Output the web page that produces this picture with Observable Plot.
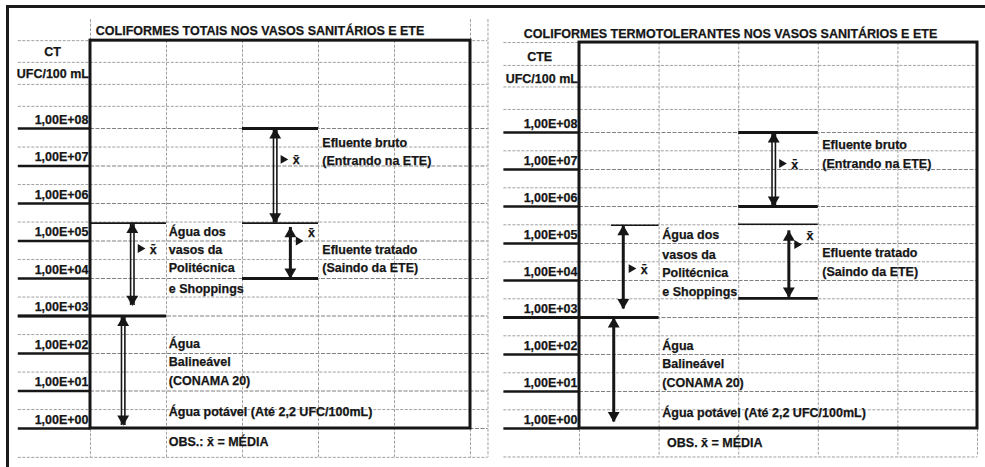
<!DOCTYPE html>
<html><head><meta charset="utf-8">
<script src="https://cdn.jsdelivr.net/npm/d3@7"></script>
<script src="https://cdn.jsdelivr.net/npm/@observablehq/plot@0.6"></script>
<style>
body{margin:0;background:#fff;}
#wrap{position:relative;width:985px;height:467px;overflow:hidden;background:#fff;}
#frame{position:absolute;left:6px;top:5px;width:985px;height:470px;border-top:3px solid #1a1a1a;border-left:3px solid #1a1a1a;}
.panel{position:absolute;top:0;}
.panel text{font-family:'Liberation Sans', Arial, sans-serif !important;font-size:12.5px !important;font-weight:bold !important;stroke:#161616;stroke-width:0.25px;}
.panel text.xbar{font-size:13px !important;}
</style></head><body><div id="wrap"><div id="frame"></div></div>
<script>
// ---- axis ticks (shared) ----
const tickValues = [1, 10, 100, 1e3, 1e4, 1e5, 1e6, 1e7, 1e8];
const tickLabels = ["1,00E+00","1,00E+01","1,00E+02","1,00E+03","1,00E+04","1,00E+05","1,00E+06","1,00E+07","1,00E+08"];
const halfRows = [3.2, 32, 320, 3.2e3, 3.2e4, 3.2e5, 3.2e6, 3.2e7];
const rangeNames = ["Efluente bruto", "Efluente tratado", "Água dos vasos", "Água balneável"];

// ---- panel 1: coliformes totais ----
const ctTitle = "COLIFORMES TOTAIS NOS VASOS SANITÁRIOS E ETE";
const ctUpperRows = [3.9e8, 1.5e9, 5.8e9];
const ctBoxTop = 2.2e10;
const ctCol = [2.43, 2.63, 0.55, 0.43];
const ctLow = [3e5, 1e4, 1.9e3, 1.2];
const ctHigh = [1e8, 2.3e5, 3e5, 1e3];
const ctMean = [1.5e7, 1e5, 6.3e4, null];
const ctDouble = [true, false, true, true];
const ctLimitValue = [1e8, 3e5, 3e5, 1e4, 1e3];
const ctLimitFrom = [2, 2, 0, 2, -0.95];
const ctLimitTo = [3, 3, 1, 3, 1];
const ctLimitBold = [true, false, false, true, true];
const ctNoteText = ["Efluente bruto","(Entrando na ETE)","Efluente tratado","(Saindo da ETE)","Água dos","vasos da","Politécnica","e Shoppings","Água","Balineável","(CONAMA 20)","Água potável (Até 2,2 UFC/100mL)","OBS.: x\u0304 = MÉDIA"];
const ctNoteCol = [3.05,3.05,3.05,3.05,1.03,1.03,1.03,1.03,1.03,1.03,1.03,1.03,1.03];
const ctNoteValue = [4e7,1.4e7,5.6e4,1.9e4,1.7e5,5.6e4,1.9e4,5.4e3,174,58,18,2.7,0.43];

// ---- panel 2: coliformes termotolerantes ----
const cteTitle = "COLIFORMES TERMOTOLERANTES NOS VASOS SANITÁRIOS E ETE";
const cteUpperRows = [4.2e8, 1.7e9, 6.5e9];
const cteBoxTop = 2.7e10;
const cteCol = [2.44, 2.63, 0.55, 0.43];
const cteLow = [1e6, 3.5e3, 1.7e3, 1.5];
const cteHigh = [1e8, 2.2e5, 3.1e5, 1e3];
const cteMean = [1.45e7, 9.4e4, 2.1e4, null];
const cteDouble = [true, false, false, false];
const cteLimitValue = [1e8, 1e6, 3.3e5, 3.3e3, 3.1e5, 1e3];
const cteLimitFrom = [2, 2, 2, 2, 0.4, -0.95];
const cteLimitTo = [3, 3, 3, 3, 1, 1];
const cteLimitBold = [true, true, false, true, false, true];
const cteNoteText = ["Efluente bruto","(Entrando na ETE)","Efluente tratado","(Saindo da ETE)","Água dos","vasos da","Politécnica","e Shoppings","Água","Balineável","(CONAMA 20)","Água potável (Até 2,2 UFC/100mL)","OBS. x\u0304 = MÉDIA"];
const cteNoteCol = [3.05,3.05,3.05,3.05,1.04,1.04,1.04,1.04,1.04,1.04,1.04,1.04,1.1];
const cteNoteValue = [4.5e7,1.45e7,5.4e4,1.7e4,1.7e5,5e4,1.55e4,4.8e3,174,54,17,2.7,0.4];

const FONT = "'Liberation Sans', Arial, sans-serif";
const INK = "#161616";

function panel(cfg) {
  const ranges = rangeNames.map((name, i) => ({name, col: cfg.col[i], low: cfg.low[i], high: cfg.high[i], mean: cfg.mean[i], dbl: cfg.dbl[i]}));
  const limits = cfg.limitValue.map((v, i) => ({v, from: cfg.limitFrom[i], to: cfg.limitTo[i], bold: cfg.limitBold[i]}));
  const notes = cfg.noteText.map((t, i) => ({t, col: cfg.noteCol[i], v: cfg.noteValue[i]}));
  const means = ranges.filter(d => d.mean != null);
  const bottom = 0.17;
  const rows = [...cfg.upperRows, cfg.boxTop, ...halfRows, bottom];
  const gridTop = cfg.extraCol != null ? 8e10 : cfg.boxTop;
  const xEnd = cfg.extraCol != null ? cfg.extraCol : 5;
  const txt = {fontFamily: FONT, fontSize: 12.5, fontWeight: "bold", fill: INK};
  const thick = ranges.filter(d => !d.dbl);
  const dbl = ranges.filter(d => d.dbl);
  return Plot.plot({
    width: cfg.width, height: 467,
    marginLeft: cfg.marginLeft, marginRight: cfg.marginRight, marginTop: 0, marginBottom: 0,
    x: {domain: [0, 5], axis: null},
    y: {type: "log", domain: [1, 1e8], range: cfg.yRange},
    style: {background: "transparent", fontFamily: FONT, overflow: "visible"},
    marks: [
      // spreadsheet grid
      Plot.ruleY(rows, {x1: -0.95, x2: xEnd, stroke: "#a0a0a0", strokeWidth: 1, strokeDasharray: "3,1.5"}),
      Plot.ruleY(tickValues, {x1: 0, x2: xEnd, stroke: "#808080", strokeWidth: 1.2, strokeDasharray: "4,1.5"}),
      Plot.ruleX([1, 2, 3, 4], {y1: cfg.boxTop, y2: bottom, stroke: "#a0a0a0", strokeWidth: 1, strokeDasharray: "3,1.5"}),
      Plot.ruleX(cfg.extraCol != null ? [0, 5, cfg.extraCol] : [0, 5], {y1: gridTop, y2: bottom, stroke: "#a0a0a0", strokeWidth: 1, strokeDasharray: "3,1.5"}),
      // label column decade lines
      Plot.ruleY(tickValues, {x1: -0.95, x2: 0, stroke: INK, strokeWidth: 2.5}),
      // range limit lines
      Plot.ruleY(limits.filter(d => d.bold), {y: "v", x1: "from", x2: "to", stroke: INK, strokeWidth: 2.8}),
      Plot.ruleY(limits.filter(d => !d.bold), {y: "v", x1: "from", x2: "to", stroke: INK, strokeWidth: 1.6}),
      // chart box
      Plot.rect([0], {x1: 0, x2: 5, y1: 1, y2: cfg.boxTop, fill: "none", stroke: INK, strokeWidth: 3}),
      // arrow shafts
      Plot.ruleX(dbl, {x: "col", y1: "low", y2: "high", dx: -1.7, stroke: INK, strokeWidth: 1.6}),
      Plot.ruleX(dbl, {x: "col", y1: "low", y2: "high", dx: 1.7, stroke: INK, strokeWidth: 1.6}),
      Plot.ruleX(thick, {x: "col", y1: "low", y2: "high", stroke: INK, strokeWidth: 3}),
      // arrow heads
      Plot.dot(ranges, {x: "col", y: "high", symbol: "triangle", r: 4.4, fill: INK, stroke: "none", dy: 6.5}),
      Plot.dot(ranges, {x: "col", y: "low", symbol: "triangle", r: 4.4, fill: INK, stroke: "none", rotate: 180, dy: -6.5}),
      // mean markers
      Plot.dot(means, {x: "col", y: "mean", symbol: "triangle", r: 3.3, fill: INK, stroke: "none", rotate: 90, dx: 8}),
      Plot.text(means.filter(d => d.name !== "Efluente tratado"), {x: "col", y: "mean", text: () => "x\u0304", dx: 21, dy: 1, className: "xbar", ...txt}),
      Plot.text(means.filter(d => d.name === "Efluente tratado"), {x: "col", y: "mean", text: () => "x\u0304", dx: 21, dy: -8, className: "xbar", ...txt}),
      // annotations
      Plot.text(notes, {x: "col", y: "v", text: "t", textAnchor: "start", lineAnchor: "middle", ...txt}),
      // header cells
      Plot.text([cfg.title], {x: cfg.titleCol, y: cfg.titleValue, text: d => d, textAnchor: "start", lineAnchor: "middle", ...txt}),
      Plot.text([cfg.unitName], {x: -0.5, y: 1.07e10, text: d => d, textAnchor: "middle", lineAnchor: "middle", ...txt}),
      Plot.text(["UFC/100 mL"], {x: -0.02, y: 2.8e9, text: d => d, textAnchor: "end", lineAnchor: "middle", ...txt}),
      // value axis
      Plot.axisY({ticks: tickValues, anchor: "left", tickSize: 0, tickPadding: 2, dy: -9, label: null,
        tickFormat: d => tickLabels[tickValues.indexOf(d)], fontSize: 12.5, fontWeight: "bold", fill: INK, fontFamily: FONT})
    ]
  });
}

const wrap = document.getElementById("wrap");
const p1 = panel({width: 490, marginLeft: 90, marginRight: 20, yRange: [428, 128], title: ctTitle, titleCol: 0.07, titleValue: 4.1e10, unitName: "CT",
  upperRows: ctUpperRows, boxTop: ctBoxTop, extraCol: 5.23, col: ctCol, low: ctLow, high: ctHigh, mean: ctMean, dbl: ctDouble,
  limitValue: ctLimitValue, limitFrom: ctLimitFrom, limitTo: ctLimitTo, limitBold: ctLimitBold,
  noteText: ctNoteText, noteCol: ctNoteCol, noteValue: ctNoteValue});
p1.classList.add("panel"); p1.style.left = "0px";
wrap.appendChild(p1);
const p2 = panel({width: 495, marginLeft: 89, marginRight: 8, yRange: [428, 132], title: cteTitle, titleCol: -0.7, titleValue: 4.7e10, unitName: "CTE",
  upperRows: cteUpperRows, boxTop: cteBoxTop, extraCol: null, col: cteCol, low: cteLow, high: cteHigh, mean: cteMean, dbl: cteDouble,
  limitValue: cteLimitValue, limitFrom: cteLimitFrom, limitTo: cteLimitTo, limitBold: cteLimitBold,
  noteText: cteNoteText, noteCol: cteNoteCol, noteValue: cteNoteValue});
p2.classList.add("panel"); p2.style.left = "490px";
wrap.appendChild(p2);
</script></body></html>
